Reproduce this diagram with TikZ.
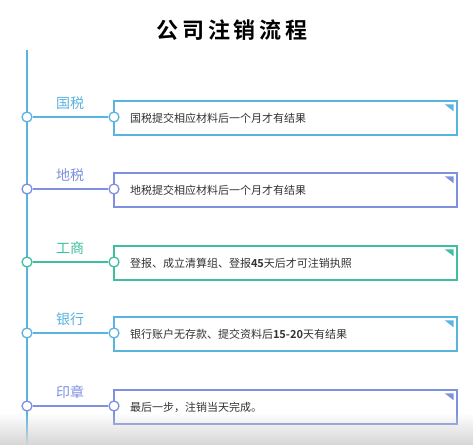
\documentclass[tikz,border=0pt]{standalone}
\usepackage{fontspec}
\setmainfont{Noto Sans CJK SC}[BoldFont={Noto Sans CJK SC Bold}]
\newfontfamily\titlefont{Noto Sans CJK SC Bold}
\usepackage{tikz}
\usetikzlibrary{fadings}

\definecolor{skyline}{HTML}{5AB4E0}
\definecolor{lavline}{HTML}{7D91E0}
\definecolor{tealline}{HTML}{3FBFA0}
\definecolor{bodytext}{HTML}{333333}

\tikzset{
  stepcard/.style={draw=#1,line width=1.4pt,fill=white,minimum width=343pt,minimum height=34pt,
    text width=311pt,align=left,inner xsep=16pt,font=\fontsize{11}{13}\selectfont,text=bodytext},
  knot/.style={circle,draw=#1,line width=1.3pt,fill=white,minimum size=10pt,inner sep=0pt},
  tagtext/.style={text=#1,font=\fontsize{14}{16}\selectfont}
}

\begin{document}
\begin{tikzpicture}[x=1pt,y=-1pt]
\useasboundingbox (0,0) rectangle (473,445);
\fill[white] (0,0) rectangle (473,445);

% title
\node[font=\titlefont\fontsize{22}{24}\selectfont] (title) at (232,30) {公\,司\,注\,销\,流\,程};

% timeline
\coordinate (railtop) at (27,50);
\coordinate (railend) at (27,445);
\draw[skyline,line width=1.5pt] (railtop) -- (railend);

\foreach \i/\y/\col/\lab/\txt in {
  1/117/skyline/国税/国税提交相应材料后一个月才有结果,
  2/189/lavline/地税/地税提交相应材料后一个月才有结果,
  3/262/tealline/工商/登报、成立清算组、登报\textbf{45}天后才可注销执照,
  4/333/skyline/银行/银行账户无存款、提交资料后\textbf{15-20}天有结果,
  5/406/lavline/印章/最后一步，注销当天完成。}{
  \node[stepcard=\col] (card\i) at (285.5,\y+1) {\txt};
  \fill[\col] ([shift={(-13,4)}]card\i.north east) -- ([shift={(-4,4)}]card\i.north east)
    -- ([shift={(-4,11)}]card\i.north east) -- cycle;
  \node[knot=\col] (hub\i) at (27,\y) {};
  \node[knot=\col] (pin\i) at (114,\y) {};
  \draw[\col,line width=1.4pt] (hub\i) -- (pin\i);
  \node[tagtext=\col] (tag\i) at (70,\y-14) {\lab};
}

% grey band at the bottom
\fill[black!16,path fading=north] (0,413) rectangle (473,445);
\end{tikzpicture}
\end{document}
